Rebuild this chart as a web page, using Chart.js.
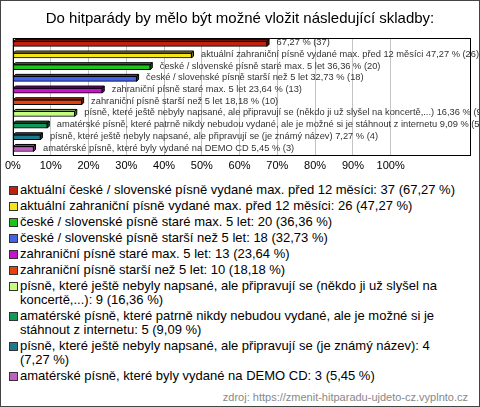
<!DOCTYPE html>
<html lang="cs">
<head>
<meta charset="UTF-8">
<title>Do hitparády by mělo být možné vložit následující skladby</title>
<script src="https://cdn.jsdelivr.net/npm/chart.js"></script>
<style>
  body { margin: 0; background: #fff; font-family: "Liberation Sans", Arial, sans-serif; }
  #wrap { position: relative; width: 480px; height: 407px; overflow: hidden; background: #fff; }
  #frame { position: absolute; left: 0; top: 0; width: 480px; height: 407px; box-sizing: border-box; border: 1px solid #444; pointer-events: none; }
  #chart { position: absolute; left: 0; top: 0; }
  #legend { position: absolute; left: 0; top: 183px; width: 459px; font-size: 13px; line-height: 14px; color: #000; }
  #legend .item { position: relative; padding-left: 20px; margin-bottom: 2px; }
  #legend .box { position: absolute; left: 9px; top: 3px; width: 7px; height: 7px; border: 1px solid #333; }
  #source { position: absolute; right: 12px; top: 391px; font-size: 11px; color: #888; }
</style>
</head>
<body>
<div id="wrap">
  <canvas id="chart" width="480" height="182"></canvas>
  <div id="legend"></div>
  <div id="source">zdroj: https://zmenit-hitparadu-ujdeto-cz.vyplnto.cz</div>
  <div id="frame"></div>
</div>
<script>
const chartTitle = "Do hitparády by mělo být možné vložit následující skladby:";
const categories = [
  "aktuální české / slovenské písně vydané max. před 12 měsíci",
  "aktuální zahraniční písně vydané max. před 12 měsíci",
  "české / slovenské písně staré max. 5 let",
  "české / slovenské písně starší než 5 let",
  "zahraniční písně staré max. 5 let",
  "zahraniční písně starší než 5 let",
  "písně, které ještě nebyly napsané, ale připravují se (někdo ji už slyšel na koncertě,...)",
  "amatérské písně, které patrně nikdy nebudou vydané, ale je možné si je stáhnout z internetu",
  "písně, které ještě nebyly napsané, ale připravují se (je známý název)",
  "amatérské písně, které byly vydané na DEMO CD"
];
const counts = [37, 26, 20, 18, 13, 10, 9, 5, 4, 3];
const percents = [67.27, 47.27, 36.36, 32.73, 23.64, 18.18, 16.36, 9.09, 7.27, 5.45];
const colors = ["#c4200e", "#f6e41a", "#1cc41c", "#4462e6", "#c414cc", "#e6420e", "#c6fc82", "#14985a", "#1e7890", "#c060c2"];
const xTicks = [0, 10, 20, 30, 40, 50, 60, 70, 80, 90, 100];
const namesHiddenOnBar = [0];

const FONT = '"Liberation Sans", Arial, sans-serif';
const fmt = v => v.toFixed(2).replace('.', ',');

function shade(hex, f) {
  const n = parseInt(hex.slice(1), 16);
  const r = Math.round(((n >> 16) & 255) * f), g = Math.round(((n >> 8) & 255) * f), b = Math.round((n & 255) * f);
  return `rgb(${r},${g},${b})`;
}

// frame around the plot area
const boxPlugin = {
  id: 'box',
  afterDraw(chart) {
    const { ctx, chartArea: a } = chart;
    ctx.save();
    ctx.strokeStyle = '#000';
    ctx.lineWidth = 1;
    ctx.strokeRect(Math.round(a.left) + 0.5, Math.round(a.top) + 0.5, Math.round(a.right - a.left), Math.round(a.bottom - a.top));
    ctx.restore();
  }
};

// 3D depth on the bars and the text after them
const barExtras = {
  id: 'barExtras',
  afterDatasetsDraw(chart) {
    const ctx = chart.ctx;
    const d = 2;
    chart.getDatasetMeta(0).data.forEach((bar, i) => {
      const x0 = bar.base, x1 = bar.x;
      const y0 = bar.y - bar.height / 2, y1 = bar.y + bar.height / 2;
      ctx.save();
      ctx.lineWidth = 1;
      ctx.strokeStyle = '#000';
      ctx.fillStyle = shade(colors[i], 0.7);
      ctx.beginPath();
      ctx.moveTo(x0, y0); ctx.lineTo(x0 + d, y0 - d); ctx.lineTo(x1 + d, y0 - d); ctx.lineTo(x1, y0); ctx.closePath();
      ctx.fill(); ctx.stroke();
      ctx.fillStyle = shade(colors[i], 0.5);
      ctx.beginPath();
      ctx.moveTo(x1, y0); ctx.lineTo(x1 + d, y0 - d); ctx.lineTo(x1 + d, y1 - d); ctx.lineTo(x1, y1); ctx.closePath();
      ctx.fill(); ctx.stroke();

      const name = namesHiddenOnBar.includes(i) ? '' : categories[i] + ' ';
      ctx.font = '9.3px ' + FONT;
      ctx.fillStyle = '#333';
      ctx.textAlign = 'left';
      ctx.textBaseline = 'middle';
      ctx.fillText(`${name}${fmt(percents[i])} % (${counts[i]})`, x1 + 9.5, bar.y - 1);
      ctx.restore();
    });
  }
};

new Chart(document.getElementById('chart'), {
  type: 'bar',
  data: {
    labels: categories,
    datasets: [{
      data: percents,
      backgroundColor: colors,
      borderColor: '#000',
      borderWidth: 1,
      borderSkipped: false,
      barThickness: 5
    }]
  },
  options: {
    indexAxis: 'y',
    responsive: false,
    animation: false,
    layout: { padding: { left: 10, right: 10, top: 0, bottom: 4 } },
    scales: {
      x: {
        min: 0, max: 121,
        afterBuildTicks: axis => { axis.ticks = xTicks.map(v => ({ value: v })); },
        grid: { color: '#c4c4c4', drawTicks: false },
        border: { display: false },
        ticks: { padding: 5, color: '#000', font: { family: FONT, size: 11 }, maxRotation: 0, callback: v => v + '%' }
      },
      y: { display: false, offset: true }
    },
    plugins: {
      legend: { display: false },
      tooltip: { enabled: false },
      title: {
        display: true,
        text: chartTitle,
        color: '#000',
        font: { family: FONT, size: 15, weight: 'normal' },
        padding: { top: 10, bottom: 10 }
      }
    }
  },
  plugins: [boxPlugin, barExtras]
});

const legend = document.getElementById('legend');
categories.forEach((c, i) => {
  legend.innerHTML += `<div class="item"><span class="box" style="background:${colors[i]}"></span>${c}: ${counts[i]} (${fmt(percents[i])} %)</div>`;
});
</script>
</body>
</html>
